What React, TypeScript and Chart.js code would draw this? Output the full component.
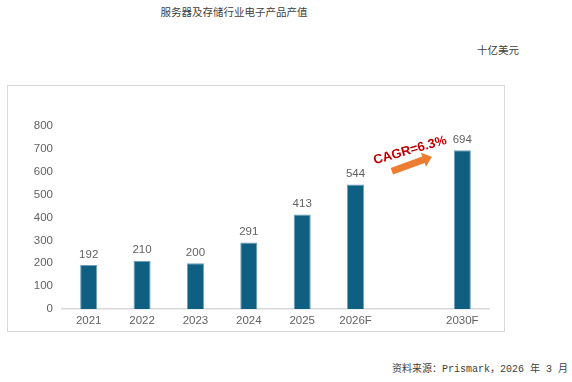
import React, { useEffect, useRef } from 'react';
import { Chart, registerables } from 'chart.js';

Chart.register(...registerables);

const categories = ['2021', '2022', '2023', '2024', '2025', '2026F', '', '2030F'];
const values: (number | null)[] = [192, 210, 200, 291, 413, 544, null, 694];
const yMin = 0;
const yMax = 800;
const yStep = 100;
const titleText = '服务器及存储行业电子产品产值';
const unitText = '十亿美元';
const sourceText = '资料来源：Prismark，2026 年 3 月';
const cagrText = 'CAGR=6.3%';
// annotation anchors in data space: [categoryIndex, value]
const cagrTextAt: [number, number] = [6.02, 693];
const arrowFrom: [number, number] = [5.68, 602];
const arrowTo: [number, number] = [6.43, 666];

const FONT = '"Liberation Sans", Arial, sans-serif';
const TEXT_GRAY = '#626262';

const labelPlugin = {
  id: 'labelsAndAnnotation',
  afterDatasetsDraw(chart: any) {
    const ctx = chart.ctx;
    const meta = chart.getDatasetMeta(0);
    ctx.save();
    ctx.font = '11.5px ' + FONT;
    ctx.fillStyle = TEXT_GRAY;
    ctx.textAlign = 'center';
    ctx.textBaseline = 'bottom';
    meta.data.forEach((el: any, i: number) => {
      const v = values[i];
      if (v == null) return;
      ctx.fillText(String(v), el.x, el.y - 5);
    });
    ctx.restore();

    const xs = chart.scales.x;
    const ys = chart.scales.y;
    // arrow
    const x1 = xs.getPixelForValue(arrowFrom[0]);
    const y1 = ys.getPixelForValue(arrowFrom[1]);
    const x2 = xs.getPixelForValue(arrowTo[0]);
    const y2 = ys.getPixelForValue(arrowTo[1]);
    const ang = Math.atan2(y2 - y1, x2 - x1);
    const len = Math.hypot(x2 - x1, y2 - y1);
    const shaft = 3.5;
    const headW = 7.5;
    const headL = 9;
    ctx.save();
    ctx.translate(x1, y1);
    ctx.rotate(ang);
    ctx.fillStyle = '#ed7d31';
    ctx.beginPath();
    ctx.moveTo(0, -shaft);
    ctx.lineTo(len - headL, -shaft);
    ctx.lineTo(len - headL, -headW);
    ctx.lineTo(len, 0);
    ctx.lineTo(len - headL, headW);
    ctx.lineTo(len - headL, shaft);
    ctx.lineTo(0, shaft);
    ctx.closePath();
    ctx.fill();
    ctx.restore();

    // CAGR text
    const tx = xs.getPixelForValue(cagrTextAt[0]);
    const ty = ys.getPixelForValue(cagrTextAt[1]);
    ctx.save();
    ctx.translate(tx, ty);
    ctx.rotate(-16 * Math.PI / 180);
    ctx.font = 'bold 13px ' + FONT;
    ctx.fillStyle = '#c00000';
    ctx.textAlign = 'center';
    ctx.textBaseline = 'middle';
    ctx.fillText(cagrText, 0, 0);
    ctx.restore();
  },
};

export default function App() {
  const ref = useRef<HTMLCanvasElement>(null);
  useEffect(() => {
    if (!ref.current) return;
    const chart = new Chart(ref.current, {
      type: 'bar',
      data: {
        labels: categories,
        datasets: [
          {
            data: values as any,
            backgroundColor: '#0e5f82',
            borderColor: '#6f9fb8',
            borderWidth: 1,
            categoryPercentage: 1,
            barPercentage: 0.32,
          },
        ],
      },
      options: {
        responsive: false,
        animation: false,
        layout: { padding: { top: 40, right: 15, bottom: 0, left: 0 } },
        plugins: { legend: { display: false }, tooltip: { enabled: false }, title: { display: false } },
        scales: {
          x: {
            grid: { display: false, drawTicks: false },
            border: { display: true, color: '#d9d9d9', width: 1.5 },
            ticks: {
              color: TEXT_GRAY,
              font: { family: FONT, size: 11.5 },
              padding: 5,
              autoSkip: false,
              maxRotation: 0,
            },
            afterFit: (s: any) => { s.height = 22; },
          },
          y: {
            min: yMin,
            max: yMax,
            grid: { display: false, drawTicks: false },
            border: { display: false },
            ticks: {
              stepSize: yStep,
              color: TEXT_GRAY,
              font: { family: FONT, size: 11.5 },
              padding: 9,
            },
            afterFit: (s: any) => { s.width = 54; },
          },
        },
      },
      plugins: [labelPlugin],
    });
    return () => chart.destroy();
  }, []);

  const cjk = '"Noto Sans CJK SC", "Liberation Serif", serif';
  return (
    <div style={{ position: 'absolute', left: 0, top: 0, width: 572, height: 382, background: '#fff' }}>
      <div style={{ position: 'absolute', left: 0, width: 468, top: 4, textAlign: 'center', fontFamily: cjk, fontSize: 10.5, lineHeight: '16px', color: '#404040' }}>
        {titleText}
      </div>
      <div style={{ position: 'absolute', right: 572 - 519, top: 42, fontFamily: cjk, fontSize: 10.5, lineHeight: '16px', color: '#404040' }}>
        {unitText}
      </div>
      <div style={{ position: 'absolute', left: 7, top: 85, width: 496, height: 245, border: '1px solid #d9d9d9' }}>
        <canvas ref={ref} width={496} height={245} style={{ display: 'block' }} />
      </div>
      <div style={{ position: 'absolute', right: 572 - 568, top: 362, fontFamily: '"Liberation Mono", "Noto Sans CJK SC", monospace', fontSize: 10, lineHeight: '16px', color: '#404040', whiteSpace: 'pre' }}>
        {sourceText}
      </div>
    </div>
  );
}
